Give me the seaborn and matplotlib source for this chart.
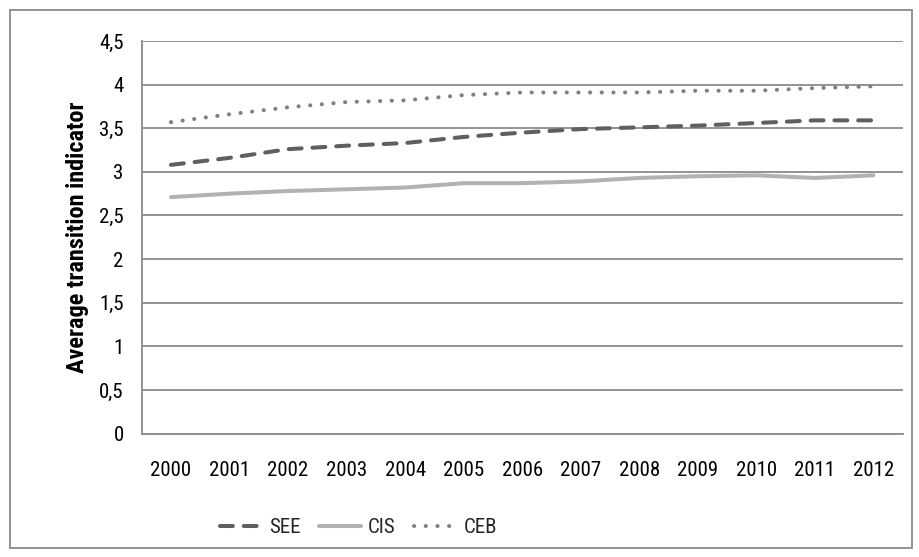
import matplotlib
matplotlib.use("Agg")
import matplotlib.pyplot as plt
import matplotlib.patches as mpatches
from matplotlib.ticker import FixedLocator, FuncFormatter
import numpy as np
import pandas as pd
import seaborn as sns

years = [2000, 2001, 2002, 2003, 2004, 2005, 2006, 2007, 2008, 2009, 2010, 2011, 2012]
see = [3.08, 3.16, 3.26, 3.30, 3.33, 3.40, 3.45, 3.49, 3.51, 3.53, 3.56, 3.59, 3.59]
cis = [2.71, 2.75, 2.78, 2.80, 2.82, 2.87, 2.87, 2.89, 2.93, 2.95, 2.96, 2.93, 2.96]
ceb = [3.57, 3.66, 3.74, 3.80, 3.82, 3.88, 3.91, 3.91, 3.91, 3.93, 3.93, 3.96, 3.98]
y_ticks = [0, 0.5, 1, 1.5, 2, 2.5, 3, 3.5, 4, 4.5]

sns.set_style("white")
plt.rcParams["font.family"] = ["Liberation Sans Narrow", "Roboto Condensed", "Liberation Sans"]

GRID = "#8a8a8a"
FS = 15

df = pd.DataFrame({"pos": np.arange(len(years)), "SEE": see, "CIS": cis, "CEB": ceb})

fig = plt.figure(figsize=(9.19, 5.57), dpi=100)
ax = fig.add_axes([0.1542, 0.2217, 0.9823 - 0.1542, 0.9264 - 0.2217])

lw = 2.9
sns.lineplot(data=df, x="pos", y="SEE", ax=ax, color="#5f5f5f", linewidth=lw,
             linestyle=(0, (3.2, 2.7)), dash_capstyle="round", label="SEE")
sns.lineplot(data=df, x="pos", y="CIS", ax=ax, color="#b2b2b2", linewidth=lw,
             solid_capstyle="round", label="CIS")
sns.lineplot(data=df, x="pos", y="CEB", ax=ax, color="#808080", linewidth=lw,
             linestyle=(0, (0.05, 2.85)), dash_capstyle="round", label="CEB")

ax.set_xlim(-0.5, len(years) - 0.5)
ax.set_ylim(0, 4.5)

# horizontal gridlines, excel-style
ax.yaxis.set_major_locator(FixedLocator(y_ticks))
ax.yaxis.set_major_formatter(FuncFormatter(lambda v, p: (f"{v:g}").replace(".", ",")))
ax.grid(axis="y", color=GRID, linewidth=1.3)
ax.grid(axis="x", visible=False)
ax.set_axisbelow(True)

# category labels centred, tick marks between categories
ax.set_xticks(np.arange(len(years)))
ax.set_xticklabels([str(y) for y in years])
ax.set_xticks(np.arange(-0.5, len(years)), minor=True)
ax.tick_params(axis="x", which="major", length=0, pad=20, labelsize=FS, labelcolor="black")
ax.tick_params(axis="x", which="minor", length=6, width=1.3, color=GRID, direction="out")
ax.tick_params(axis="y", length=6, width=1.3, color=GRID, direction="out", pad=7,
               labelsize=FS, labelcolor="black")

for s in ["top", "right"]:
    ax.spines[s].set_visible(False)
for s in ["left", "bottom"]:
    ax.spines[s].set_color(GRID)
    ax.spines[s].set_linewidth(1.3)

ax.set_xlabel("")
ax.set_ylabel("Average transition indicator", fontsize=17.5, fontweight="bold",
              labelpad=7, color="black")

handles, labels = ax.get_legend_handles_labels()
if ax.legend_:
    ax.legend_.remove()
fig.legend(handles, labels, loc="center", bbox_to_anchor=(0.39, 0.053), ncol=3,
           frameon=False, fontsize=FS, handlelength=2.0, handletextpad=0.35,
           columnspacing=0.9)

# chart frame
fig.patches.append(mpatches.Rectangle((9.5 / 919, 1 - 548 / 557), 902 / 919, 538 / 557,
                                      transform=fig.transFigure, fill=False,
                                      edgecolor=GRID, linewidth=1.3))

fig.savefig("out.png", dpi=100, facecolor="white")
